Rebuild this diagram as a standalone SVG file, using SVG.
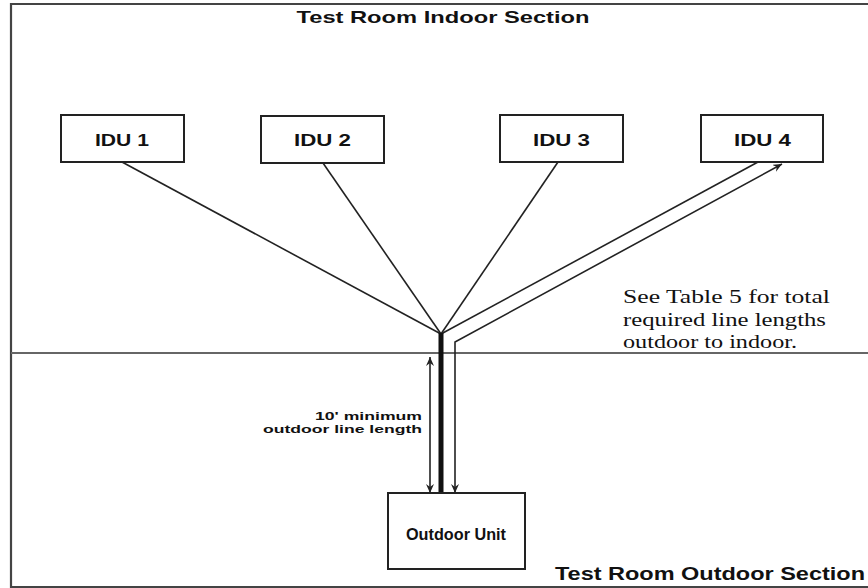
<svg xmlns="http://www.w3.org/2000/svg" width="868" height="588" viewBox="0 0 868 588">
<style>
.box{fill:#fff;stroke:#222;stroke-width:2}
.lbl{font-family:"Liberation Sans",Arial,sans-serif;font-weight:bold;fill:#111}
.ln{stroke:#222;stroke-width:1.6;fill:none}
.note{font-family:"Liberation Serif","Times New Roman",serif;font-size:19px;fill:#111}
</style>
<defs>
<marker id="ah" markerWidth="10" markerHeight="8" refX="9" refY="4" orient="auto" markerUnits="userSpaceOnUse">
<path d="M0,0 L9,4 L0,8 L3,4 Z" fill="#222"/>
</marker>
<marker id="ahs" markerWidth="10" markerHeight="8" refX="9" refY="4" orient="auto-start-reverse" markerUnits="userSpaceOnUse">
<path d="M0,0 L9,4 L0,8 L3,4 Z" fill="#222"/>
</marker>
</defs>
<rect width="868" height="588" fill="#fff"/>
<g id="frame">
<path d="M870,4 H11 V587 H870" fill="none" stroke="#444" stroke-width="2.2"/>
<line x1="11" y1="353" x2="868" y2="353" stroke="#666" stroke-width="2"/>
<text class="lbl" x="443" y="23" font-size="17" text-anchor="middle" textLength="293" lengthAdjust="spacingAndGlyphs">Test Room Indoor Section</text>
<text class="lbl" x="555" y="580" font-size="18" textLength="310" lengthAdjust="spacingAndGlyphs">Test Room Outdoor Section</text>
</g>
<g id="connectors">
<line class="ln" x1="122" y1="162" x2="441" y2="334"/>
<line class="ln" x1="323" y1="163" x2="441" y2="334"/>
<line class="ln" x1="558" y1="162" x2="441" y2="334"/>
<line class="ln" x1="758" y1="162" x2="441" y2="334"/>
<polyline class="ln" points="455,493 455,342 782,164" marker-end="url(#ah)" marker-start="url(#ahs)"/>
<line x1="441" y1="333" x2="441" y2="493" stroke="#111" stroke-width="5"/>
<line class="ln" x1="430" y1="357" x2="430" y2="493" marker-start="url(#ahs)" marker-end="url(#ah)"/>
</g>
<g id="idu1">
<rect class="box" x="61" y="115" width="123" height="47"/>
<text class="lbl" x="95" y="146" font-size="16" textLength="54" lengthAdjust="spacingAndGlyphs">IDU 1</text>
</g>
<g id="idu2">
<rect class="box" x="261" y="116" width="123" height="47"/>
<text class="lbl" x="294" y="146" font-size="16" textLength="57" lengthAdjust="spacingAndGlyphs">IDU 2</text>
</g>
<g id="idu3">
<rect class="box" x="500" y="115" width="123" height="47"/>
<text class="lbl" x="533" y="146" font-size="16" textLength="57" lengthAdjust="spacingAndGlyphs">IDU 3</text>
</g>
<g id="idu4">
<rect class="box" x="701" y="115" width="122" height="47"/>
<text class="lbl" x="734" y="146" font-size="16" textLength="57" lengthAdjust="spacingAndGlyphs">IDU 4</text>
</g>
<g id="outdoor">
<rect class="box" x="388" y="493" width="137" height="76"/>
<text class="lbl" x="406" y="540" font-size="17" textLength="100" lengthAdjust="spacingAndGlyphs">Outdoor Unit</text>
</g>
<g id="dimlabel">
<text class="lbl" x="422" y="420" font-size="11" text-anchor="end" textLength="107" lengthAdjust="spacingAndGlyphs">10' minimum</text>
<text class="lbl" x="422" y="433" font-size="11" text-anchor="end" textLength="159" lengthAdjust="spacingAndGlyphs">outdoor line length</text>
</g>
<g id="note">
<text class="note" x="623" y="303" textLength="207" lengthAdjust="spacingAndGlyphs">See Table 5 for total</text>
<text class="note" x="623" y="326" textLength="203" lengthAdjust="spacingAndGlyphs">required line lengths</text>
<text class="note" x="623" y="348" textLength="174" lengthAdjust="spacingAndGlyphs">outdoor to indoor.</text>
</g>
</svg>
